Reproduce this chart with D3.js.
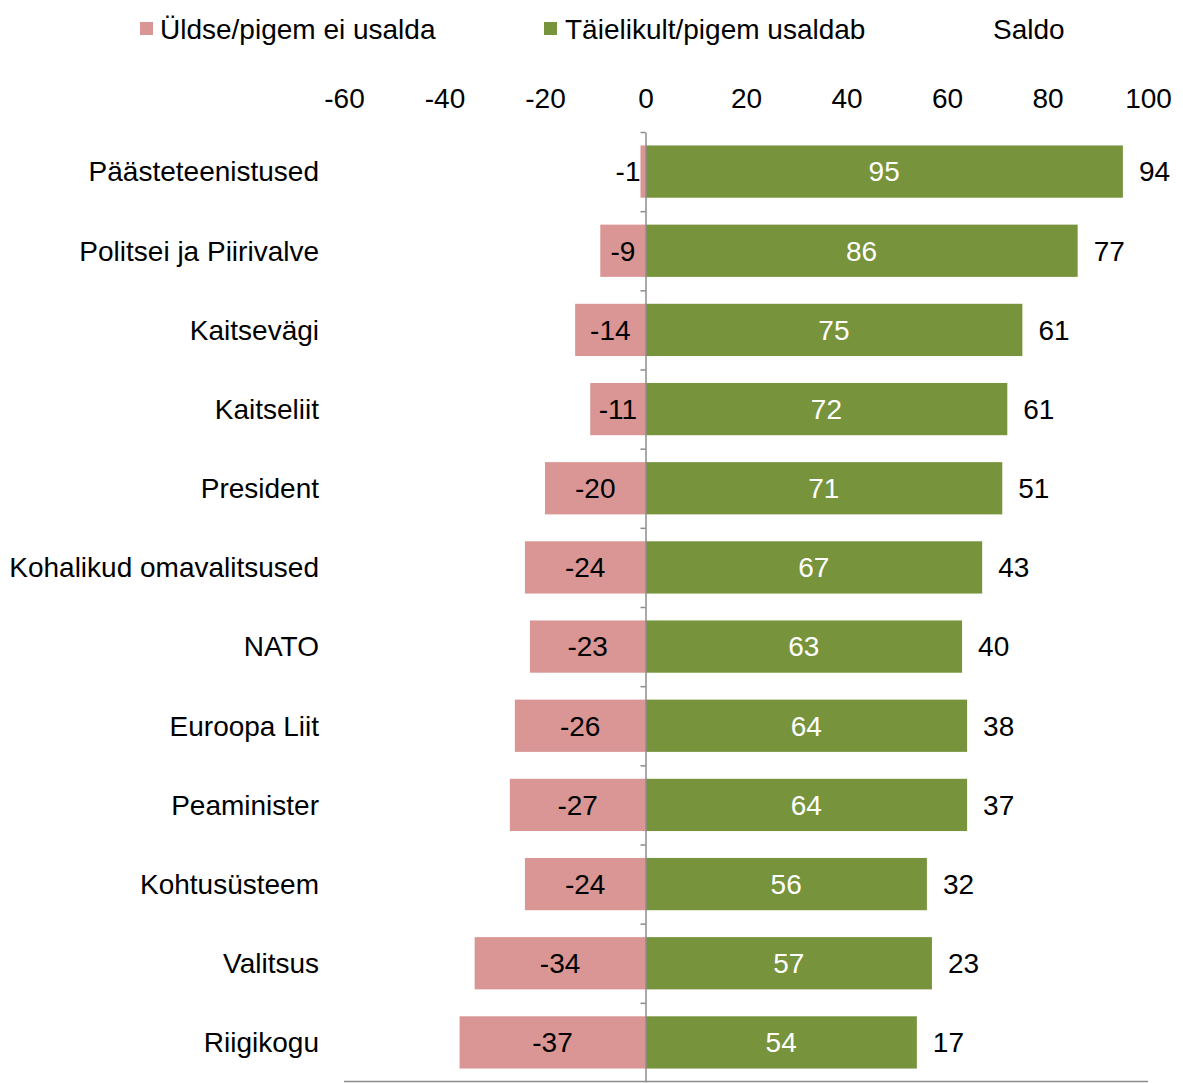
<!DOCTYPE html>
<html>
<head>
<meta charset="utf-8">
<script src="https://cdn.jsdelivr.net/npm/d3@7"></script>
<style>
  body { margin: 0; background: #fff; }
  svg text { font-family: "Liberation Sans", Arial, sans-serif; font-size: 28px; fill: #000; }
</style>
</head>
<body>
<div id="chart"></div>
<script>
// data
var categories = ["Päästeteenistused", "Politsei ja Piirivalve", "Kaitsevägi", "Kaitseliit", "President",
  "Kohalikud omavalitsused", "NATO", "Euroopa Liit", "Peaminister", "Kohtusüsteem", "Valitsus", "Riigikogu"];
var distrust = [-1, -9, -14, -11, -20, -24, -23, -26, -27, -24, -34, -37];
var trust = [95, 86, 75, 72, 71, 67, 63, 64, 64, 56, 57, 54];
var saldo = [94, 77, 61, 61, 51, 43, 40, 38, 37, 32, 23, 17];
var xTicks = [-60, -40, -20, 0, 20, 40, 60, 80, 100];
var seriesNames = ["Üldse/pigem ei usalda", "Täielikult/pigem usaldab", "Saldo"];

var width = 1183;
var height = 1083;
var pink = "#d99694";
var green = "#77933c";
var axisGrey = "#8c8c8c";

var svg = d3.select("#chart").append("svg")
      .attr("width", width)
      .attr("height", height);

var xScale = d3.scaleLinear()
      .domain([-60, 100])
      .range([344, 1148]);

var yScale = d3.scaleBand()
      .domain(categories)
      .range([132, 1082])
      .paddingInner(0.34)
      .paddingOuter(0.17);

var rows = categories.map(function (c, i) {
  return { cat: c, neg: distrust[i], pos: trust[i], saldo: saldo[i] };
});

// top axis labels only (no line, no ticks), plain hyphen for minus
var topAxis = d3.axisTop(xScale)
      .tickValues(xTicks)
      .tickSize(0)
      .tickPadding(0)
      .tickFormat(d => String(d));
var gTop = svg.append("g")
      .attr("transform", "translate(0,108)")
      .call(topAxis);
gTop.select(".domain").remove();
gTop.selectAll("text").attr("font-size", null).attr("font-family", null).attr("fill", null);

// category labels
var gLeft = svg.append("g")
      .attr("transform", "translate(319,0)")
      .call(d3.axisLeft(yScale).tickSize(0).tickPadding(0));
gLeft.select(".domain").remove();
gLeft.selectAll("text").attr("font-size", null).attr("font-family", null).attr("fill", null)
      .attr("dy", "0.35em");

// bars
var bars = svg.append("g");
bars.selectAll("rect.neg")
      .data(rows).enter().append("rect")
      .attr("class", "neg")
      .attr("x", d => xScale(d.neg))
      .attr("y", d => yScale(d.cat))
      .attr("width", d => xScale(0) - xScale(d.neg))
      .attr("height", yScale.bandwidth())
      .attr("fill", pink);
bars.selectAll("rect.pos")
      .data(rows).enter().append("rect")
      .attr("class", "pos")
      .attr("x", xScale(0))
      .attr("y", d => yScale(d.cat))
      .attr("width", d => xScale(d.pos) - xScale(0))
      .attr("height", yScale.bandwidth())
      .attr("fill", green);

// zero axis with small ticks at the category boundaries
var zeroAxis = d3.axisLeft(d3.scaleLinear().domain([0, categories.length]).range([132, 1082]))
      .tickValues(d3.range(categories.length))
      .tickSize(5)
      .tickSizeOuter(0)
      .tickFormat("");
var gZero = svg.append("g")
      .attr("transform", "translate(" + xScale(0) + ",0)")
      .call(zeroAxis);
gZero.selectAll("line, path").attr("stroke", axisGrey).attr("stroke-width", 1.5);

// bottom line
svg.append("line")
      .attr("x1", xScale(-60)).attr("x2", xScale(100))
      .attr("y1", 1081.5).attr("y2", 1081.5)
      .attr("stroke", axisGrey)
      .attr("stroke-width", 1.5);

// value labels
var labels = svg.append("g");
labels.selectAll("text.neg")
      .data(rows).enter().append("text")
      .attr("class", "neg")
      .attr("y", d => yScale(d.cat) + yScale.bandwidth() / 2)
      .attr("dy", "0.35em")
      .attr("text-anchor", "middle")
      .text(d => d.neg)
      .attr("x", function (d) {
        var w = this.getComputedTextLength();
        var mid = (xScale(d.neg) + xScale(0)) / 2;
        return Math.min(mid, xScale(0) - w / 2 - 5);
      });
labels.selectAll("text.pos")
      .data(rows).enter().append("text")
      .attr("class", "pos")
      .attr("x", d => (xScale(0) + xScale(d.pos)) / 2)
      .attr("y", d => yScale(d.cat) + yScale.bandwidth() / 2)
      .attr("dy", "0.35em")
      .attr("text-anchor", "middle")
      .style("fill", "#fff")
      .text(d => d.pos);
labels.selectAll("text.saldo")
      .data(rows).enter().append("text")
      .attr("class", "saldo")
      .attr("x", d => xScale(d.pos) + 16)
      .attr("y", d => yScale(d.cat) + yScale.bandwidth() / 2)
      .attr("dy", "0.35em")
      .text(d => d.saldo);

// legend
var legend = svg.append("g");
legend.append("rect").attr("x", 140).attr("y", 22).attr("width", 13).attr("height", 13).attr("fill", pink);
legend.append("text").attr("x", 160).attr("y", 29).attr("dy", "0.35em").text(seriesNames[0]);
legend.append("rect").attr("x", 544).attr("y", 22).attr("width", 13).attr("height", 13).attr("fill", green);
legend.append("text").attr("x", 565).attr("y", 29).attr("dy", "0.35em").text(seriesNames[1]);
legend.append("text").attr("x", 993).attr("y", 29).attr("dy", "0.35em").text(seriesNames[2]);
</script>
</body>
</html>
